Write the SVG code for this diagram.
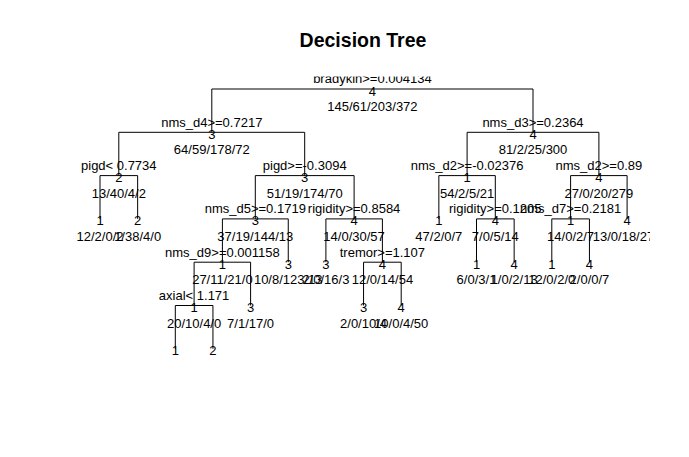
<svg xmlns="http://www.w3.org/2000/svg" width="689" height="457" viewBox="0 0 689 457">
<defs>
<clipPath id="plot"><rect x="0" y="76.6" width="650" height="283"/></clipPath>
<style>
text{font-family:"Liberation Sans",Arial,Helvetica,sans-serif;font-size:13px;fill:#000;text-anchor:middle}
.title{font-size:19.5px;font-weight:bold}
.br{fill:none;stroke:#000;stroke-width:1}
</style>
</defs>
<rect width="689" height="457" fill="#fff"/>
<text class="title" x="363" y="47">Decision Tree</text>
<g id="connectors">
<path class="br" d="M211.8 132.3V89H533V132.3"/>
<path class="br" d="M118.8 175.6V132.3H304.7V175.6"/>
<path class="br" d="M467.1 175.6V132.3H598.9V175.6"/>
<path class="br" d="M100 218.9V175.6H137.65V218.9"/>
<path class="br" d="M255.3 218.9V175.6H354.1V218.9"/>
<path class="br" d="M438.85 218.9V175.6H495.3V218.9"/>
<path class="br" d="M570.6 218.9V175.6H627.1V218.9"/>
<path class="br" d="M222.4 262.2V218.9H288.25V262.2"/>
<path class="br" d="M325.9 262.2V218.9H382.4V262.2"/>
<path class="br" d="M476.5 262.2V218.9H514.15V262.2"/>
<path class="br" d="M551.8 262.2V218.9H589.45V262.2"/>
<path class="br" d="M194.1 305.5V262.2H250.6V305.5"/>
<path class="br" d="M363.55 305.5V262.2H401.2V305.5"/>
<path class="br" d="M175.3 348.8V305.5H212.95V348.8"/>
</g>
<g clip-path="url(#plot)">
<g id="n_root"><text x="372.4" y="83.3">bradykin&gt;=0.004134</text><text x="372.4" y="95.5">4</text><text x="372.4" y="111">145/61/203/372</text></g>
<g id="n_nms_d4"><text x="211.8" y="126.6">nms_d4&gt;=0.7217</text><text x="211.8" y="138.8">3</text><text x="211.8" y="154.3">64/59/178/72</text></g>
<g id="n_nms_d3"><text x="533" y="126.6">nms_d3&gt;=0.2364</text><text x="533" y="138.8">4</text><text x="533" y="154.3">81/2/25/300</text></g>
<g id="n_pigd_lt"><text x="118.8" y="169.9">pigd&lt; 0.7734</text><text x="118.8" y="182.1">2</text><text x="118.8" y="197.6">13/40/4/2</text></g>
<g id="n_pigd_ge"><text x="304.7" y="169.9">pigd&gt;=-0.3094</text><text x="304.7" y="182.1">3</text><text x="304.7" y="197.6">51/19/174/70</text></g>
<g id="n_nms_d2a"><text x="467.1" y="169.9">nms_d2&gt;=-0.02376</text><text x="467.1" y="182.1">1</text><text x="467.1" y="197.6">54/2/5/21</text></g>
<g id="n_nms_d2b"><text x="598.9" y="169.9">nms_d2&gt;=0.89</text><text x="598.9" y="182.1">4</text><text x="598.9" y="197.6">27/0/20/279</text></g>
<g id="leaf1"><text x="100" y="225.4">1</text><text x="100" y="240.9">12/2/0/2</text></g>
<g id="leaf2"><text x="137.65" y="225.4">2</text><text x="137.65" y="240.9">1/38/4/0</text></g>
<g id="n_nms_d5"><text x="255.3" y="213.2">nms_d5&gt;=0.1719</text><text x="255.3" y="225.4">3</text><text x="255.3" y="240.9">37/19/144/13</text></g>
<g id="n_rigidity_a"><text x="354.1" y="213.2">rigidity&gt;=0.8584</text><text x="354.1" y="225.4">4</text><text x="354.1" y="240.9">14/0/30/57</text></g>
<g id="leaf10"><text x="438.85" y="225.4">1</text><text x="438.85" y="240.9">47/2/0/7</text></g>
<g id="n_rigidity_b"><text x="495.3" y="213.2">rigidity&gt;=0.1205</text><text x="495.3" y="225.4">4</text><text x="495.3" y="240.9">7/0/5/14</text></g>
<g id="n_nms_d7"><text x="570.6" y="213.2">nms_d7&gt;=0.2181</text><text x="570.6" y="225.4">1</text><text x="570.6" y="240.9">14/0/2/7</text></g>
<g id="leaf15"><text x="627.1" y="225.4">4</text><text x="627.1" y="240.9">13/0/18/272</text></g>
<g id="n_nms_d9"><text x="222.4" y="256.5">nms_d9&gt;=0.001158</text><text x="222.4" y="268.7">1</text><text x="222.4" y="284.2">27/11/21/0</text></g>
<g id="leaf6"><text x="288.25" y="268.7">3</text><text x="288.25" y="284.2">10/8/123/13</text></g>
<g id="leaf7"><text x="325.9" y="268.7">3</text><text x="325.9" y="284.2">2/0/16/3</text></g>
<g id="n_tremor"><text x="382.4" y="256.5">tremor&gt;=1.107</text><text x="382.4" y="268.7">4</text><text x="382.4" y="284.2">12/0/14/54</text></g>
<g id="leaf11"><text x="476.5" y="268.7">1</text><text x="476.5" y="284.2">6/0/3/1</text></g>
<g id="leaf12"><text x="514.15" y="268.7">4</text><text x="514.15" y="284.2">1/0/2/13</text></g>
<g id="leaf13"><text x="551.8" y="268.7">1</text><text x="551.8" y="284.2">12/0/2/0</text></g>
<g id="leaf14"><text x="589.45" y="268.7">4</text><text x="589.45" y="284.2">2/0/0/7</text></g>
<g id="n_axial"><text x="194.1" y="299.8">axial&lt; 1.171</text><text x="194.1" y="312">1</text><text x="194.1" y="327.5">20/10/4/0</text></g>
<g id="leaf5"><text x="250.6" y="312">3</text><text x="250.6" y="327.5">7/1/17/0</text></g>
<g id="leaf8"><text x="363.55" y="312">3</text><text x="363.55" y="327.5">2/0/10/4</text></g>
<g id="leaf9"><text x="401.2" y="312">4</text><text x="401.2" y="327.5">10/0/4/50</text></g>
<g id="leaf3"><text x="175.3" y="355.3">1</text></g>
<g id="leaf4"><text x="212.95" y="355.3">2</text></g>
</g>
</svg>
